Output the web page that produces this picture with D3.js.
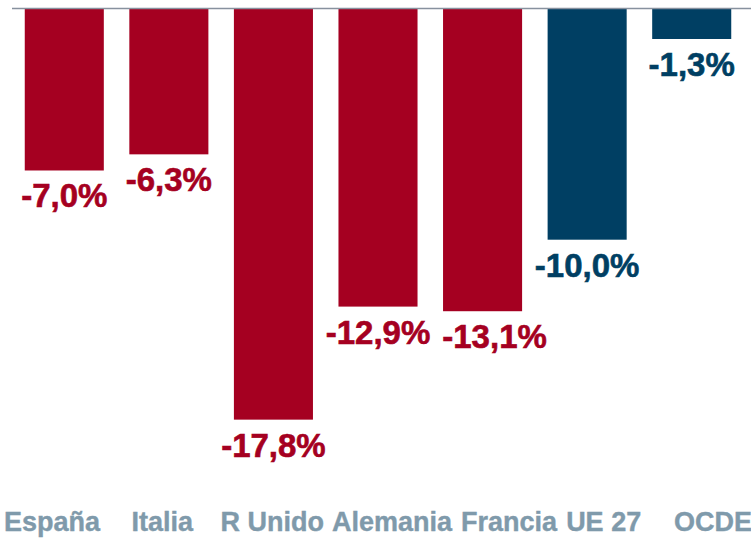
<!DOCTYPE html>
<html lang="es">
<head>
  <meta charset="UTF-8">
  <title>Variación por país</title>
  <script src="https://d3js.org/d3.v7.min.js"></script>
  <style>
    body { margin: 0; background: #fff; }
    svg { display: block; }
    text { font-family: "Liberation Sans", Arial, sans-serif; font-weight: bold; }
    .value { font-size: 33px; stroke-width: 0.6px; }
    .cat { font-size: 27px; fill: #7f9aab; stroke: #7f9aab; stroke-width: 0.4px; }
  </style>
</head>
<body>
  <svg width="751" height="538"></svg>

  <script>
    const categories = ["España", "Italia", "R Unido", "Alemania", "Francia", "UE 27", "OCDE"];
    const values = [-7.0, -6.3, -17.8, -12.9, -13.1, -10.0, -1.3];
    const aggregates = ["UE 27", "OCDE"];

    const data = categories.map((c, i) => ({ name: c, value: values[i] }));

    const svg = d3.select("svg");
    const width = +svg.attr("width");

    const x = d3.scaleBand()
      .domain(categories)
      .range([12, 744])
      .paddingInner(0.244)
      .paddingOuter(0.122);

    // category row is laid out a little apart from the bars
    const xLabel = d3.scalePoint()
      .domain(categories)
      .range([52, 713]);

    const y = d3.scaleLinear()
      .domain([0, -20])
      .range([9, 470.4]);

    const color = d3.scaleOrdinal()
      .domain(["pais", "agregado"])
      .range(["#a50021", "#003f63"]);
    const groupOf = d => aggregates.includes(d.name) ? "agregado" : "pais";

    const es = d3.formatLocale({ decimal: ",", thousands: ".", grouping: [3], currency: ["", " €"], minus: "-" });
    const fmt = es.format(".1f");

    // push a text right when it runs into its left neighbour
    function spreadRight(sel, gap) {
      let prev = null;
      sel.each(function () {
        const b = this.getBBox();
        if (prev && b.x < prev.x + prev.width + gap &&
            b.y < prev.y + prev.height && prev.y < b.y + b.height) {
          const dx = prev.x + prev.width + gap - b.x;
          this.setAttribute("x", +this.getAttribute("x") + dx);
          b.x += dx;
        }
        prev = b;
      });
    }

    // bars
    svg.append("g").selectAll("rect")
      .data(data).enter().append("rect")
      .attr("x", d => x(d.name))
      .attr("y", y(0))
      .attr("width", x.bandwidth())
      .attr("height", d => y(d.value) - y(0))
      .attr("fill", d => color(groupOf(d)));

    // zero line at the top
    svg.append("line")
      .attr("x1", 12).attr("x2", width)
      .attr("y1", y(0) - 0.5).attr("y2", y(0) - 0.5)
      .attr("stroke", "#87919e")
      .attr("stroke-width", 1.6);

    // value labels
    const labels = svg.append("g").selectAll("text")
      .data(data).enter().append("text")
      .attr("class", "value")
      .attr("x", d => x(d.name) + x.bandwidth() / 2)
      .attr("y", d => y(d.value) + 37)
      .attr("text-anchor", "middle")
      .attr("fill", d => color(groupOf(d)))
      .attr("stroke", d => color(groupOf(d)))
      .text(d => fmt(d.value) + "%");
    spreadRight(labels, 12);

    // category labels
    const cats = svg.append("g").selectAll("text")
      .data(categories).enter().append("text")
      .attr("class", "cat")
      .attr("x", d => xLabel(d))
      .attr("y", 531)
      .attr("text-anchor", "middle")
      .text(d => d);
    spreadRight(cats, 8);
  </script>
</body>
</html>
